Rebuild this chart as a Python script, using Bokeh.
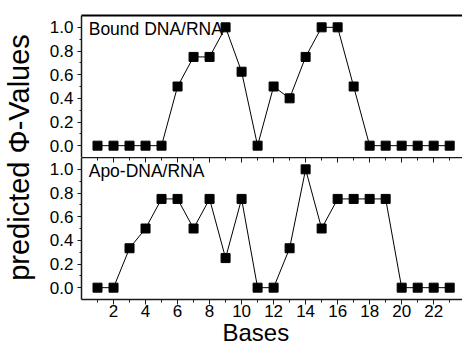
import math
from bokeh.plotting import figure
from bokeh.layouts import row, column
from bokeh.models import (Range1d, LinearAxis, FixedTicker, Label, Title,
                          NumeralTickFormatter, CustomLabelingPolicy)
from bokeh.embed import file_html
from bokeh.resources import INLINE

# Predicted phi-values per base position
bases = list(range(1, 24))
bound = [0, 0, 0, 0, 0, 0.5, 0.75, 0.75, 1.0, 0.625, 0, 0.5, 0.4, 0.75,
         1.0, 1.0, 0.5, 0, 0, 0, 0, 0, 0]
apo = [0, 0, 0.333, 0.5, 0.75, 0.75, 0.5, 0.75, 0.25, 0.75, 0, 0, 0.333,
       1.0, 0.5, 0.75, 0.75, 0.75, 0.75, 0, 0, 0, 0]

panel_titles = ["Bound DNA/RNA", "Apo-DNA/RNA"]
x_major = [2, 4, 6, 8, 10, 12, 14, 16, 18, 20, 22]
x_minor = [1, 3, 5, 7, 9, 11, 13, 15, 17, 19, 21, 23]
y_major = [0.0, 0.2, 0.4, 0.6, 0.8, 1.0]
y_minor = [0.1, 0.3, 0.5, 0.7, 0.9]

FONT = "Liberation Sans"
AXIS_COLOR = "#1a1a1a"
LABEL_W = 40
FIG_W = 462 - LABEL_W
FRAME_H = 142

# tick marks only, no tick labels
no_labels = CustomLabelingPolicy(code="""
    const result = new Set()
    return result
""")


def style_y(p):
    ax = p.yaxis[0]
    ax.ticker = FixedTicker(ticks=y_major, minor_ticks=y_minor)
    ax.formatter = NumeralTickFormatter(format="0.0")
    ax.major_label_text_font = FONT
    ax.major_label_text_font_size = "17px"
    ax.major_label_text_color = "black"
    ax.major_label_standoff = 4
    ax.major_tick_out = 4
    ax.major_tick_in = 0
    ax.minor_tick_out = 2
    ax.minor_tick_in = 0
    ax.axis_line_width = 1.5
    ax.axis_line_color = AXIS_COLOR
    ax.major_tick_line_color = AXIS_COLOR
    ax.minor_tick_line_color = AXIS_COLOR


def make_panel(values, title, border_top, border_bottom, bottom_axis):
    p = figure(width=FIG_W, height=FRAME_H + border_top + border_bottom,
               output_backend="svg", toolbar_location=None,
               x_range=Range1d(0, 23.8), y_range=Range1d(-0.1, 1.1),
               x_axis_type=None,
               min_border_left=81 - LABEL_W, min_border_right=0,
               min_border_top=border_top, min_border_bottom=border_bottom)
    p.grid.visible = False
    p.outline_line_color = None
    p.background_fill_color = "white"
    p.border_fill_color = "white"
    style_y(p)

    # top edge of the panel; on the lower panel it carries inward ticks
    if bottom_axis:
        top_ticker = FixedTicker(ticks=x_major, minor_ticks=x_minor)
    else:
        top_ticker = FixedTicker(ticks=[], minor_ticks=[])
    top = LinearAxis(ticker=top_ticker,
                     major_label_policy=no_labels,
                     major_label_text_font_size="0px", major_label_standoff=0,
                     major_tick_in=5 if bottom_axis else 0, major_tick_out=0,
                     minor_tick_in=3 if bottom_axis else 0, minor_tick_out=0,
                     axis_line_width=1.5 if bottom_axis else 2,
                     axis_line_color=AXIS_COLOR if bottom_axis else "black",
                     major_tick_line_color=AXIS_COLOR,
                     minor_tick_line_color=AXIS_COLOR)
    p.add_layout(top, "above")

    if bottom_axis:
        bx = LinearAxis(ticker=FixedTicker(ticks=x_major, minor_ticks=x_minor),
                        major_label_text_font=FONT,
                        major_label_text_font_size="17px",
                        major_label_text_color="black",
                        major_label_standoff=0,
                        major_tick_out=5, major_tick_in=0,
                        minor_tick_out=3, minor_tick_in=0,
                        axis_line_width=1.5, axis_line_color=AXIS_COLOR,
                        major_tick_line_color=AXIS_COLOR,
                        minor_tick_line_color=AXIS_COLOR)
        p.add_layout(bx, "below")
        # horizontal axis title
        p.add_layout(Title(text="Bases", align="left", offset=141,
                           standoff=-5, text_font=FONT,
                           text_font_size="24px", text_font_style="normal",
                           text_color="black"), "below")

    p.line(bases, values, line_color="black", line_width=1)
    p.scatter(bases, values, marker="square", size=9,
              fill_color="black", line_color="black")
    p.add_layout(Label(x=0.45, y=0.99, text=title, text_font=FONT,
                       text_font_size="17.5px", text_baseline="middle",
                       text_align="left", text_color="black"))
    return p


p_top = make_panel(bound, panel_titles[0], 15, 0, False)
p_bot = make_panel(apo, panel_titles[1], 0, 46, True)

# shared vertical axis title
lab = figure(width=LABEL_W, height=345, output_backend="svg",
             toolbar_location=None, x_range=Range1d(0, LABEL_W),
             y_range=Range1d(345, 0), x_axis_type=None, y_axis_type=None,
             min_border=0)
lab.grid.visible = False
lab.outline_line_color = None
lab.add_layout(Label(x=18, y=157, text="predicted \u03a6-Values",
                     angle=math.pi / 2, text_font=FONT,
                     text_font_size="29px", text_align="center",
                     text_baseline="middle", text_color="black"))

layout = row(lab, column(p_top, p_bot))
open("out.html", "w").write(file_html(layout, INLINE))
